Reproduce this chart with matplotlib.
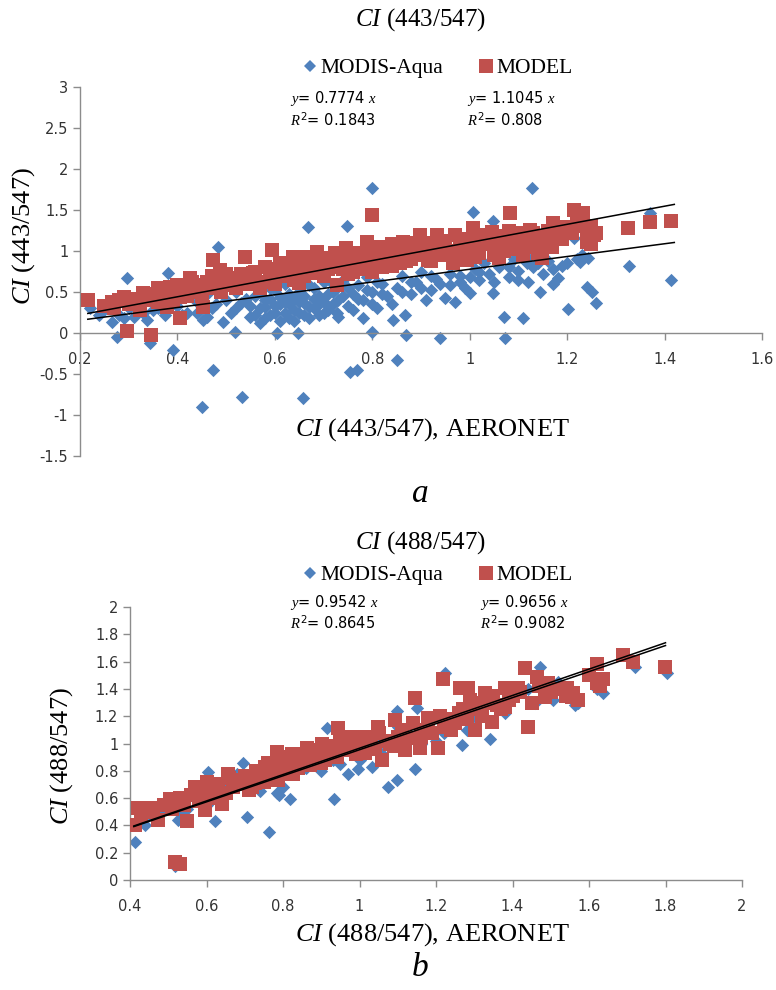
import matplotlib
matplotlib.use("Agg")
import matplotlib.pyplot as plt
from matplotlib.ticker import FuncFormatter
from matplotlib.lines import Line2D

# data: (AERONET CI, retrieved CI)
modis_a = [
    (0.22, 0.30), (0.24, 0.22), (0.25, 0.28), (0.265, 0.13), (0.275, -0.05), (0.28, 0.22), (0.29, 0.18),
    (0.296, 0.67), (0.30, 0.30), (0.31, 0.20), (0.32, 0.35), (0.33, 0.25), (0.337, 0.16), (0.343, -0.12),
    (0.35, 0.28), (0.36, 0.40), (0.36, 0.30), (0.374, 0.22), (0.38, 0.73), (0.39, -0.21), (0.40, 0.33),
    (0.41, 0.45), (0.41, 0.22), (0.42, 0.25), (0.43, 0.55), (0.44, 0.38), (0.44, 0.25), (0.45, -0.90),
    (0.452, 0.16), (0.46, 0.48), (0.46, 0.20), (0.47, 0.30), (0.473, -0.45), (0.48, 0.35), (0.483, 1.05),
    (0.49, 0.60), (0.493, 0.13), (0.50, 0.40), (0.51, 0.25), (0.518, 0.01), (0.52, 0.50), (0.52, 0.30),
    (0.532, -0.78), (0.53, 0.36), (0.54, 0.62), (0.54, 0.42), (0.55, 0.20), (0.55, 0.33), (0.56, 0.45),
    (0.56, 0.22), (0.57, 0.30), (0.57, 0.12), (0.57, 0.50), (0.58, 0.40), (0.58, 0.18), (0.58, 0.32),
    (0.59, 0.22), (0.59, 0.55), (0.59, 0.42), (0.60, 0.33), (0.60, 0.25), (0.60, 0.52), (0.604, 0.0),
    (0.61, 0.15), (0.61, 0.44), (0.61, 0.35), (0.62, 0.25), (0.62, 0.60), (0.62, 0.38), (0.63, 0.35),
    (0.63, 0.18), (0.63, 0.48), (0.64, 0.42), (0.64, 0.28), (0.64, 0.15), (0.647, 0.0), (0.65, 0.50),
    (0.65, 0.38), (0.65, 0.25), (0.657, -0.79), (0.66, 0.22), (0.66, 0.36), (0.66, 0.45), (0.668, 1.29),
    (0.67, 0.58), (0.67, 0.32), (0.67, 0.18), (0.68, 0.30), (0.68, 0.42), (0.68, 0.55), (0.69, 0.45),
    (0.69, 0.22), (0.69, 0.35), (0.70, 0.62), (0.70, 0.38), (0.70, 0.25), (0.71, 0.28), (0.71, 0.48),
    (0.72, 0.50), (0.72, 0.35), (0.72, 0.60), (0.727, 0.24), (0.73, 0.40), (0.73, 0.20), (0.74, 0.65),
    (0.74, 0.45), (0.748, 1.30), (0.75, 0.33), (0.75, 0.55), (0.754, -0.47), (0.76, 0.48), (0.76, 0.28),
    (0.768, -0.45), (0.77, 0.58), (0.77, 0.42), (0.78, 0.18), (0.78, 0.40), (0.79, 0.68), (0.79, 0.52),
    (0.80, 1.77), (0.80, 0.01), (0.80, 0.50), (0.80, 0.35), (0.81, 0.30), (0.81, 0.62), (0.82, 0.60),
    (0.82, 0.48), (0.83, 0.45), (0.84, 0.35), (0.842, 0.16), (0.85, -0.33), (0.85, 0.55), (0.86, 0.70),
    (0.86, 0.50), (0.867, 0.22), (0.87, -0.02), (0.88, 0.48), (0.88, 0.62), (0.89, 0.62), (0.90, 0.75),
    (0.90, 0.55), (0.91, 0.40), (0.92, 0.52), (0.92, 0.70), (0.93, 0.66), (0.94, -0.06), (0.94, 0.60),
    (0.95, 0.43), (0.96, 0.58), (0.96, 0.72), (0.97, 0.38), (0.98, 0.70), (0.98, 0.62), (0.99, 0.55),
    (1.00, 0.49), (1.00, 0.68), (1.006, 1.48), (1.01, 0.78), (1.02, 0.65), (1.02, 0.75), (1.03, 0.85),
    (1.04, 0.72), (1.047, 0.49), (1.047, 1.37), (1.05, 0.62), (1.06, 0.80), (1.07, 0.20), (1.072, -0.06),
    (1.08, 0.68), (1.08, 0.80), (1.09, 0.90), (1.10, 0.76), (1.10, 0.65), (1.11, 0.18), (1.117, 0.85),
    (1.12, 0.62), (1.12, 0.92), (1.127, 1.77), (1.13, 0.80), (1.14, 0.85), (1.144, 0.50), (1.15, 0.72),
    (1.16, 0.88), (1.17, 0.60), (1.17, 0.78), (1.181, 0.67), (1.19, 0.82), (1.20, 0.85), (1.201, 0.29),
    (1.215, 1.16), (1.22, 0.90), (1.226, 0.87), (1.23, 0.95), (1.24, 0.56), (1.242, 0.91), (1.252, 0.50),
    (1.26, 0.37), (1.328, 0.82), (1.37, 1.46), (1.414, 0.65),
]
model_a = [
    (0.216, 0.40), (0.25, 0.33), (0.266, 0.38), (0.27, 0.30), (0.28, 0.40), (0.29, 0.44), (0.296, 0.03),
    (0.30, 0.35), (0.31, 0.42), (0.32, 0.36), (0.323, 0.28), (0.33, 0.49), (0.34, 0.40), (0.346, -0.03),
    (0.35, 0.47), (0.36, 0.55), (0.36, 0.38), (0.37, 0.45), (0.378, 0.32), (0.38, 0.50), (0.385, 0.56),
    (0.39, 0.40), (0.40, 0.58), (0.405, 0.18), (0.405, 0.44), (0.41, 0.52), (0.42, 0.45), (0.426, 0.67),
    (0.43, 0.50), (0.43, 0.62), (0.44, 0.58), (0.44, 0.50), (0.452, 0.32), (0.45, 0.45), (0.46, 0.62),
    (0.46, 0.55), (0.47, 0.70), (0.473, 0.89), (0.47, 0.55), (0.48, 0.60), (0.487, 0.77), (0.49, 0.50),
    (0.50, 0.65), (0.50, 0.72), (0.51, 0.58), (0.514, 0.67), (0.52, 0.55), (0.52, 0.66), (0.53, 0.72),
    (0.53, 0.62), (0.538, 0.93), (0.54, 0.60), (0.55, 0.68), (0.555, 0.73), (0.56, 0.65), (0.56, 0.75),
    (0.57, 0.55), (0.58, 0.80), (0.58, 0.62), (0.594, 1.01), (0.59, 0.68), (0.59, 0.78), (0.60, 0.60),
    (0.60, 0.70), (0.61, 0.77), (0.61, 0.85), (0.62, 0.70), (0.62, 0.78), (0.63, 0.85), (0.63, 0.72),
    (0.637, 0.93), (0.64, 0.65), (0.64, 0.80), (0.65, 0.61), (0.66, 0.78), (0.66, 0.70), (0.665, 0.93),
    (0.67, 0.88), (0.678, 0.73), (0.68, 0.80), (0.686, 0.99), (0.69, 0.85), (0.70, 0.70), (0.70, 0.92),
    (0.71, 0.90), (0.71, 0.78), (0.72, 0.85), (0.723, 0.97), (0.727, 0.58), (0.73, 0.80), (0.73, 0.92),
    (0.74, 0.78), (0.747, 1.04), (0.75, 0.72), (0.75, 0.95), (0.76, 0.90), (0.76, 0.75), (0.77, 0.82),
    (0.77, 0.98), (0.78, 0.85), (0.789, 1.11), (0.79, 0.95), (0.79, 0.78), (0.80, 0.74), (0.80, 1.44),
    (0.81, 0.88), (0.81, 1.05), (0.82, 1.00), (0.82, 0.80), (0.83, 0.92), (0.836, 1.05), (0.84, 0.82),
    (0.84, 1.08), (0.85, 0.95), (0.856, 0.85), (0.86, 1.00), (0.863, 1.11), (0.87, 1.00), (0.87, 0.88),
    (0.88, 0.90), (0.88, 1.10), (0.89, 0.95), (0.897, 1.20), (0.90, 1.05), (0.91, 1.10), (0.914, 0.89),
    (0.92, 0.98), (0.92, 0.88), (0.93, 1.02), (0.932, 1.20), (0.94, 1.08), (0.95, 0.95), (0.95, 1.12),
    (0.96, 1.00), (0.965, 0.85), (0.969, 1.19), (0.97, 0.92), (0.98, 1.05), (0.99, 1.15), (0.994, 0.89),
    (1.00, 1.12), (1.00, 1.00), (1.006, 1.28), (1.01, 0.93), (1.02, 0.98), (1.02, 1.20), (1.03, 1.15),
    (1.04, 1.08), (1.045, 1.23), (1.05, 1.05), (1.05, 0.95), (1.06, 0.92), (1.06, 1.18), (1.07, 1.12),
    (1.07, 1.00), (1.08, 1.25), (1.082, 1.46), (1.088, 1.17), (1.09, 1.08), (1.10, 1.02), (1.10, 1.15),
    (1.11, 1.22), (1.11, 0.95), (1.12, 1.05), (1.123, 1.26), (1.13, 1.10), (1.13, 1.22), (1.14, 0.98),
    (1.144, 1.17), (1.148, 0.91), (1.15, 1.10), (1.16, 1.25), (1.164, 1.13), (1.168, 1.05), (1.17, 1.34),
    (1.18, 1.20), (1.19, 1.15), (1.195, 1.29), (1.20, 1.28), (1.21, 1.22), (1.215, 1.50), (1.22, 1.35),
    (1.23, 1.30), (1.232, 1.46), (1.24, 1.26), (1.24, 1.11), (1.25, 1.30), (1.25, 1.08), (1.256, 1.19),
    (1.26, 1.22), (1.324, 1.28), (1.37, 1.35), (1.414, 1.37),
]
modis_b = [
    (0.413, 0.28), (0.42, 0.42), (0.44, 0.40), (0.45, 0.48), (0.48, 0.50), (0.518, 0.10), (0.525, 0.44),
    (0.53, 0.50), (0.55, 0.52), (0.57, 0.60), (0.60, 0.55), (0.604, 0.79), (0.622, 0.43), (0.63, 0.62),
    (0.66, 0.70), (0.68, 0.78), (0.695, 0.86), (0.706, 0.46), (0.72, 0.72), (0.74, 0.65), (0.763, 0.35),
    (0.77, 0.80), (0.784, 0.64), (0.79, 0.62), (0.80, 0.68), (0.818, 0.59), (0.84, 0.85), (0.86, 0.82),
    (0.87, 0.90), (0.90, 0.80), (0.915, 1.11), (0.93, 0.88), (0.933, 0.59), (0.95, 0.85), (0.97, 0.78),
    (0.996, 0.81), (1.00, 0.88), (1.01, 0.95), (1.033, 0.83), (1.05, 1.00), (1.06, 0.92), (1.075, 0.68),
    (1.098, 0.73), (1.098, 1.24), (1.10, 1.12), (1.12, 1.05), (1.145, 0.81), (1.15, 1.26), (1.16, 1.00),
    (1.18, 1.10), (1.20, 1.02), (1.22, 1.08), (1.224, 1.52), (1.25, 1.18), (1.268, 0.99), (1.28, 1.10),
    (1.30, 1.20), (1.32, 1.25), (1.341, 1.03), (1.36, 1.30), (1.38, 1.22), (1.40, 1.35), (1.44, 1.40),
    (1.46, 1.30), (1.472, 1.56), (1.506, 1.32), (1.52, 1.45), (1.563, 1.28), (1.57, 1.30), (1.62, 1.40),
    (1.637, 1.37), (1.72, 1.56), (1.804, 1.52),
]
model_b = [
    (0.413, 0.40), (0.42, 0.53), (0.43, 0.47), (0.452, 0.53), (0.46, 0.50), (0.474, 0.44), (0.49, 0.55),
    (0.505, 0.59), (0.51, 0.52), (0.518, 0.13), (0.531, 0.12), (0.531, 0.60), (0.54, 0.55), (0.549, 0.43),
    (0.56, 0.62), (0.57, 0.68), (0.58, 0.58), (0.59, 0.65), (0.596, 0.51), (0.601, 0.72), (0.61, 0.60),
    (0.62, 0.62), (0.63, 0.70), (0.64, 0.56), (0.65, 0.64), (0.656, 0.78), (0.66, 0.75), (0.67, 0.68),
    (0.68, 0.70), (0.693, 0.73), (0.70, 0.76), (0.71, 0.66), (0.72, 0.68), (0.727, 0.71), (0.73, 0.80),
    (0.74, 0.78), (0.75, 0.72), (0.753, 0.83), (0.76, 0.86), (0.77, 0.76), (0.78, 0.80), (0.784, 0.94),
    (0.787, 0.73), (0.79, 0.90), (0.80, 0.85), (0.81, 0.78), (0.82, 0.88), (0.823, 0.92), (0.826, 0.78),
    (0.84, 0.82), (0.85, 0.88), (0.86, 0.92), (0.863, 0.97), (0.87, 0.84), (0.88, 0.90), (0.89, 0.95),
    (0.90, 0.86), (0.902, 1.00), (0.91, 0.88), (0.92, 0.98), (0.93, 0.95), (0.94, 0.90), (0.944, 1.11),
    (0.95, 1.02), (0.967, 0.95), (0.97, 0.98), (0.98, 1.05), (0.99, 0.92), (1.0, 0.98), (1.00, 1.05),
    (1.015, 0.93), (1.02, 1.00), (1.03, 1.05), (1.04, 0.96), (1.049, 1.12), (1.05, 1.08), (1.06, 0.88),
    (1.07, 1.02), (1.08, 1.00), (1.09, 0.98), (1.093, 1.17), (1.10, 1.05), (1.11, 1.10), (1.12, 0.95),
    (1.13, 1.04), (1.14, 1.15), (1.145, 1.33), (1.158, 0.97), (1.16, 1.05), (1.17, 1.10), (1.179, 1.19),
    (1.18, 1.15), (1.19, 1.08), (1.205, 0.97), (1.21, 1.20), (1.218, 1.47), (1.22, 1.12), (1.23, 1.18),
    (1.24, 1.10), (1.25, 1.15), (1.26, 1.22), (1.263, 1.41), (1.27, 1.25), (1.28, 1.18), (1.284, 1.41),
    (1.29, 1.32), (1.30, 1.25), (1.302, 1.10), (1.31, 1.30), (1.32, 1.20), (1.328, 1.37), (1.33, 1.30),
    (1.346, 1.16), (1.35, 1.35), (1.36, 1.28), (1.37, 1.25), (1.38, 1.27), (1.38, 1.41), (1.39, 1.32),
    (1.40, 1.35), (1.414, 1.41), (1.42, 1.38), (1.433, 1.55), (1.44, 1.12), (1.45, 1.30), (1.464, 1.49),
    (1.47, 1.42), (1.485, 1.34), (1.493, 1.44), (1.50, 1.38), (1.52, 1.40), (1.54, 1.35), (1.542, 1.41),
    (1.556, 1.34), (1.558, 1.37), (1.57, 1.32), (1.60, 1.50), (1.62, 1.58), (1.62, 1.44), (1.63, 1.42),
    (1.637, 1.47), (1.689, 1.65), (1.715, 1.60), (1.799, 1.56),
]

# trend line slopes, R2 and the x span they are drawn over
slopes_a = [0.7774, 1.1045]
r2_a = ["0.1843", "0.808"]
span_a = [0.216, 1.42]
slopes_b = [0.9542, 0.9656]
r2_b = ["0.8645", "0.9082"]
span_b = [0.41, 1.80]

series_names = ["MODIS-Aqua", "MODEL"]
blue = "#4F81BD"
red = "#C0504D"

plt.rcParams["axes.unicode_minus"] = False
plt.rcParams["mathtext.fontset"] = "custom"
plt.rcParams["mathtext.it"] = "Liberation Serif:italic"
plt.rcParams["mathtext.rm"] = "DejaVu Sans"
serif = "Liberation Serif"

W, H = 776, 990
fig = plt.figure(figsize=(W / 100, H / 100), dpi=100)


def px(x, y):
    # pixel position in the picture -> figure fraction
    return x / W, 1 - y / H


def fmt(v, pos):
    return "%g" % round(v, 2)


def panel(rect, modis, model, xlim, ylim, step_x, step_y, slopes, span, zero_axis):
    ax = fig.add_axes(rect)
    ax.scatter([p[0] for p in modis], [p[1] for p in modis], marker="D", s=46, color=blue, linewidths=0, zorder=2)
    ax.scatter([p[0] for p in model], [p[1] for p in model], marker="s", s=95, color=red, linewidths=0, zorder=3)
    for k in slopes:
        ax.plot(span, [k * span[0], k * span[1]], color="black", lw=1.1, zorder=4)
    ax.set_xlim(*xlim)
    ax.set_ylim(*ylim)
    n = int(round((xlim[1] - xlim[0]) / step_x))
    ax.set_xticks([xlim[0] + i * step_x for i in range(n + 1)])
    n = int(round((ylim[1] - ylim[0]) / step_y))
    ax.set_yticks([ylim[0] + i * step_y for i in range(n + 1)])
    ax.xaxis.set_major_formatter(FuncFormatter(fmt))
    ax.yaxis.set_major_formatter(FuncFormatter(fmt))
    for s in ["top", "right"]:
        ax.spines[s].set_visible(False)
    for s in ["left", "bottom"]:
        ax.spines[s].set_color("#8c8c8c")
        ax.spines[s].set_linewidth(1.0)
    if zero_axis:
        ax.spines["bottom"].set_position(("data", 0))
    ax.tick_params(colors="#8c8c8c", labelcolor="#333333", labelsize=10.5, length=5, width=1.0)
    ax.tick_params(axis="x", pad=9)
    ax.set_facecolor("none")
    return ax


ax1 = panel([80 / W, 1 - 456 / H, 682 / W, 369 / H], modis_a, model_a, (0.2, 1.6), (-1.5, 3.0),
            0.2, 0.5, slopes_a, span_a, True)
ax2 = panel([130 / W, 1 - 880 / H, 612 / W, 273 / H], modis_b, model_b, (0.4, 2.0), (0.0, 2.0),
            0.2, 0.2, slopes_b, span_b, False)

handles = [Line2D([], [], ls="none", marker="D", ms=6, color=blue, mew=0),
           Line2D([], [], ls="none", marker="s", ms=10, color=red, mew=0)]


def annotate(title, ty, leg_y, eq_y, r2_y, slopes, r2s, eq_x, xl_y, yl_x, yl_y, letter, let_y):
    fig.text(*px(420, ty), r"$CI$ (%s)" % title, family=serif, fontsize=18, ha="center", va="center")
    fig.legend(handles, series_names, loc="center", bbox_to_anchor=px(437, leg_y), ncol=2, frameon=False,
               prop={"family": serif, "size": 15.5}, handletextpad=0.1, handlelength=0.8, columnspacing=1.6)
    for k, r, x in zip(slopes, r2s, eq_x):
        fig.text(*px(x, eq_y), r"$y$= %s $x$" % ("%g" % k), fontsize=10.5, ha="left", va="center")
        fig.text(*px(x, r2_y), r"$R^2$= %s" % r, fontsize=10.5, ha="left", va="center")
    fig.text(*px(432, xl_y), r"$CI$ (%s), AERONET" % title, family=serif, fontsize=19, ha="center", va="center")
    fig.text(*px(yl_x, yl_y), r"$CI$ (%s)" % title, family=serif, fontsize=19, ha="center", va="center",
             rotation=90)
    fig.text(*px(420, let_y), r"$%s$" % letter, fontsize=24, ha="center", va="center")


annotate("443/547", 20, 68, 98, 120, slopes_a, r2_a, [290, 467], 430, 24, 236, "a", 492)
annotate("488/547", 543, 575, 602, 623, slopes_b, r2_b, [290, 480], 935, 62, 756, "b", 966)

fig.savefig("out.png", dpi=100)
